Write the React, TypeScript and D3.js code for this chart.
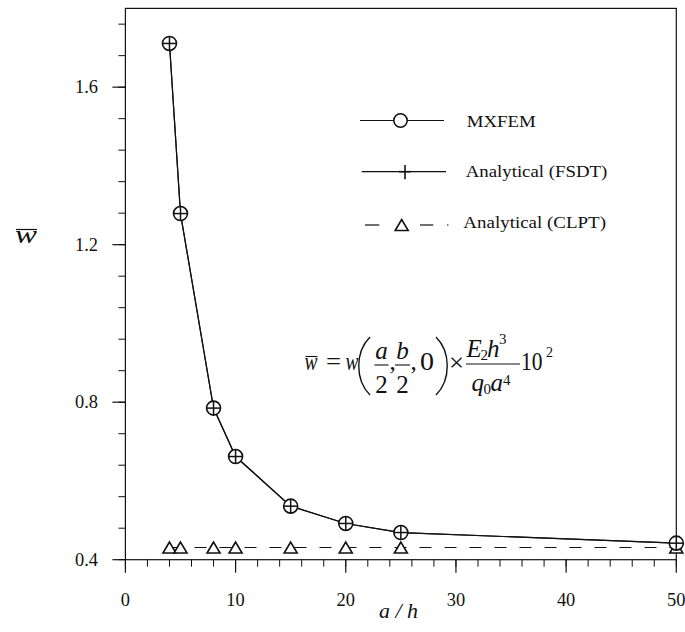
import React from "react";
import * as d3 from "d3";

const aOverH = [4, 5, 8, 10, 15, 20, 25, 50];
const mxfem = [1.711, 1.279, 0.785, 0.662, 0.536, 0.492, 0.469, 0.442];
const fsdt = [1.711, 1.279, 0.785, 0.662, 0.536, 0.492, 0.469, 0.442];
const clpt = [0.431, 0.431, 0.431, 0.431, 0.431, 0.431, 0.431, 0.431];
const xTicks = [0, 10, 20, 30, 40, 50];
const yTicks = [0.4, 0.8, 1.2, 1.6];
const legendLabels = ["MXFEM", "Analytical (FSDT)", "Analytical (CLPT)"];

const W = 685;
const H = 632;
const FONT = "'Liberation Serif', 'Times New Roman', serif";

const labelWidth = (s: string) =>
  s.split("").reduce((acc, ch) => acc + (ch === "." ? 4.6 : 9.2), 0);

export default function App() {
  const x = d3.scaleLinear().domain([0, 50]).range([125.4, 676.3]);
  const y = d3.scaleLinear().domain([0.4, 1.8]).range([559.7, 8.4]);
  const xMinor = d3.range(0, 50.001, 2);
  const yMinor = d3.range(0.4, 1.8001, 0.08);

  const ptsM = aOverH.map((a, i) => [x(a), y(mxfem[i])] as [number, number]);
  const ptsF = aOverH.map((a, i) => [x(a), y(fsdt[i])] as [number, number]);
  const ptsC = aOverH.map((a, i) => [x(a), y(clpt[i])] as [number, number]);
  const line = d3.line();

  const left = x(0), right = x(50), top = y(1.8), bottom = y(0.4);
  const stroke = "#111";

  const tri = (cx: number, cy: number) =>
    `M${cx},${cy - 5.5} L${cx - 6.5},${cy + 5.5} L${cx + 6.5},${cy + 5.5} Z`;

  return (
    <svg width={W} height={H} style={{ position: "absolute", left: 0, top: 0, background: "#fff" }}
      fontFamily={FONT}>
      <rect x={0} y={0} width={W} height={H} fill="#fff" />
      {/* frame */}
      <rect x={left} y={top} width={right - left} height={bottom - top} fill="none" stroke={stroke} strokeWidth={1.2} />
      {/* x ticks */}
      {xMinor.map((v) => (
        <line key={"xm" + v} x1={x(v)} x2={x(v)} y1={bottom} y2={bottom + 7} stroke={stroke} strokeWidth={1} />
      ))}
      {xTicks.map((v) => (
        <g key={"xt" + v}>
          <line x1={x(v)} x2={x(v)} y1={bottom} y2={bottom + 13} stroke={stroke} strokeWidth={1.2} />
          <text x={x(v)} y={605.5} fontSize={18} textAnchor="middle" fill="#111"
            textLength={labelWidth(String(v))} lengthAdjust="spacingAndGlyphs">{v}</text>
        </g>
      ))}
      {/* y ticks */}
      {yMinor.map((v, i) => (
        <line key={"ym" + i} x1={left - 7} x2={left} y1={y(v)} y2={y(v)} stroke={stroke} strokeWidth={1} />
      ))}
      {yTicks.map((v) => (
        <g key={"yt" + v}>
          <line x1={left - 13} x2={left} y1={y(v)} y2={y(v)} stroke={stroke} strokeWidth={1.2} />
          <text x={98} y={y(v) + 6} fontSize={18} textAnchor="end" fill="#111"
            textLength={labelWidth(v.toFixed(1))} lengthAdjust="spacingAndGlyphs">{v.toFixed(1)}</text>
        </g>
      ))}
      {/* axis titles */}
      <text x={379} y={618} fontSize={20} fontStyle="italic" fill="#111"
        textLength={39} lengthAdjust="spacingAndGlyphs">a / h</text>
      <g>
        <line x1={16} x2={37} y1={229.5} y2={229.5} stroke={stroke} strokeWidth={1.2} />
        <text x={15} y={243} fontSize={25} fontStyle="italic" textLength={22} lengthAdjust="spacingAndGlyphs" fill="#111">w</text>
      </g>

      {/* data lines */}
      <path d={line(ptsC) || ""} fill="none" stroke={stroke} strokeWidth={1} strokeDasharray="12 13" />
      <path d={line(ptsF) || ""} fill="none" stroke={stroke} strokeWidth={1.2} />
      <path d={line(ptsM) || ""} fill="none" stroke={stroke} strokeWidth={1.2} />
      {ptsC.map(([cx, cy], i) => (
        <path key={"c" + i} d={tri(cx, cy)} fill="#fff" stroke={stroke} strokeWidth={1.6} />
      ))}
      {ptsM.map(([cx, cy], i) => (
        <circle key={"m" + i} cx={cx} cy={cy} r={7} fill="#fff" stroke={stroke} strokeWidth={1.6} />
      ))}
      {ptsF.map(([cx, cy], i) => (
        <g key={"f" + i} stroke={stroke} strokeWidth={1.5}>
          <line x1={cx - 7} x2={cx + 7} y1={cy} y2={cy} />
          <line x1={cx} x2={cx} y1={cy - 7} y2={cy + 7} />
        </g>
      ))}

      {/* legend */}
      <g>
        <line x1={360} x2={444} y1={120.5} y2={120.5} stroke={stroke} strokeWidth={1.2} />
        <circle cx={400.5} cy={120.5} r={6.7} fill="#fff" stroke={stroke} strokeWidth={1.6} />
        <text x={466.7} y={126.5} fontSize={17} textLength={69} lengthAdjust="spacingAndGlyphs" fill="#111">{legendLabels[0]}</text>

        <line x1={361.7} x2={446} y1={171.7} y2={171.7} stroke={stroke} strokeWidth={1.2} />
        <line x1={399} x2={411} y1={171.7} y2={171.7} stroke={stroke} strokeWidth={1.6} />
        <line x1={405} x2={405} y1={165} y2={179.3} stroke={stroke} strokeWidth={1.6} />
        <text x={465.7} y={177} fontSize={17} textLength={141.6} lengthAdjust="spacingAndGlyphs" fill="#111">{legendLabels[1]}</text>

        <line x1={365} x2={379.3} y1={225} y2={225} stroke={stroke} strokeWidth={1.2} />
        <line x1={420} x2={433.3} y1={225} y2={225} stroke={stroke} strokeWidth={1.2} />
        <line x1={447} x2={448.5} y1={225} y2={225} stroke={stroke} strokeWidth={1.2} />
        <path d={tri(401.7, 225)} fill="#fff" stroke={stroke} strokeWidth={1.6} />
        <text x={463.3} y={228} fontSize={17} textLength={142.7} lengthAdjust="spacingAndGlyphs" fill="#111">{legendLabels[2]}</text>
      </g>

      {/* formula */}
      <g fill="#111" fontSize={25}>
        <line x1={305.5} x2={317.5} y1={356.5} y2={356.5} stroke={stroke} strokeWidth={1.1} />
        <text x={304.5} y={370} fontStyle="italic" textLength={13} lengthAdjust="spacingAndGlyphs">w</text>
        <text x={326} y={370} textLength={15} lengthAdjust="spacingAndGlyphs">=</text>
        <text x={345.5} y={370} fontStyle="italic" textLength={13} lengthAdjust="spacingAndGlyphs">w</text>
        <path d="M370,337 C355,352 355,380 370,395" fill="none" stroke={stroke} strokeWidth={1.4} />
        <text x={381.5} y={358.5} fontStyle="italic" textAnchor="middle">a</text>
        <line x1={374.5} x2={388.5} y1={365} y2={365} stroke={stroke} strokeWidth={1.1} />
        <text x={381.5} y={392.5} textAnchor="middle">2</text>
        <text x={389.5} y={370}>,</text>
        <text x={402.5} y={358.5} fontStyle="italic" textAnchor="middle">b</text>
        <line x1={395} x2={410} y1={365} y2={365} stroke={stroke} strokeWidth={1.1} />
        <text x={402.5} y={392.5} textAnchor="middle">2</text>
        <text x={410.5} y={370}>,</text>
        <text x={420} y={370} textLength={14} lengthAdjust="spacingAndGlyphs">0</text>
        <path d="M436,337 C451,352 451,380 436,395" fill="none" stroke={stroke} strokeWidth={1.4} />
        <text x={449} y={371} fontSize={26} textLength={15} lengthAdjust="spacingAndGlyphs">×</text>
        <text x={466.5} y={357} fontStyle="italic">E</text>
        <text x={480.5} y={360} fontSize={15}>2</text>
        <text x={487} y={357} fontStyle="italic">h</text>
        <text x={499} y={344} fontSize={15}>3</text>
        <line x1={466} x2={520} y1={364} y2={364} stroke={stroke} strokeWidth={1.1} />
        <text x={471.5} y={391} fontStyle="italic">q</text>
        <text x={483.5} y={394} fontSize={15}>0</text>
        <text x={490.5} y={391} fontStyle="italic">a</text>
        <text x={503} y={385} fontSize={15}>4</text>
        <text x={521} y={370} textLength={21.5} lengthAdjust="spacingAndGlyphs">10</text>
        <text x={546} y={357} fontSize={14}>2</text>
      </g>
    </svg>
  );
}
